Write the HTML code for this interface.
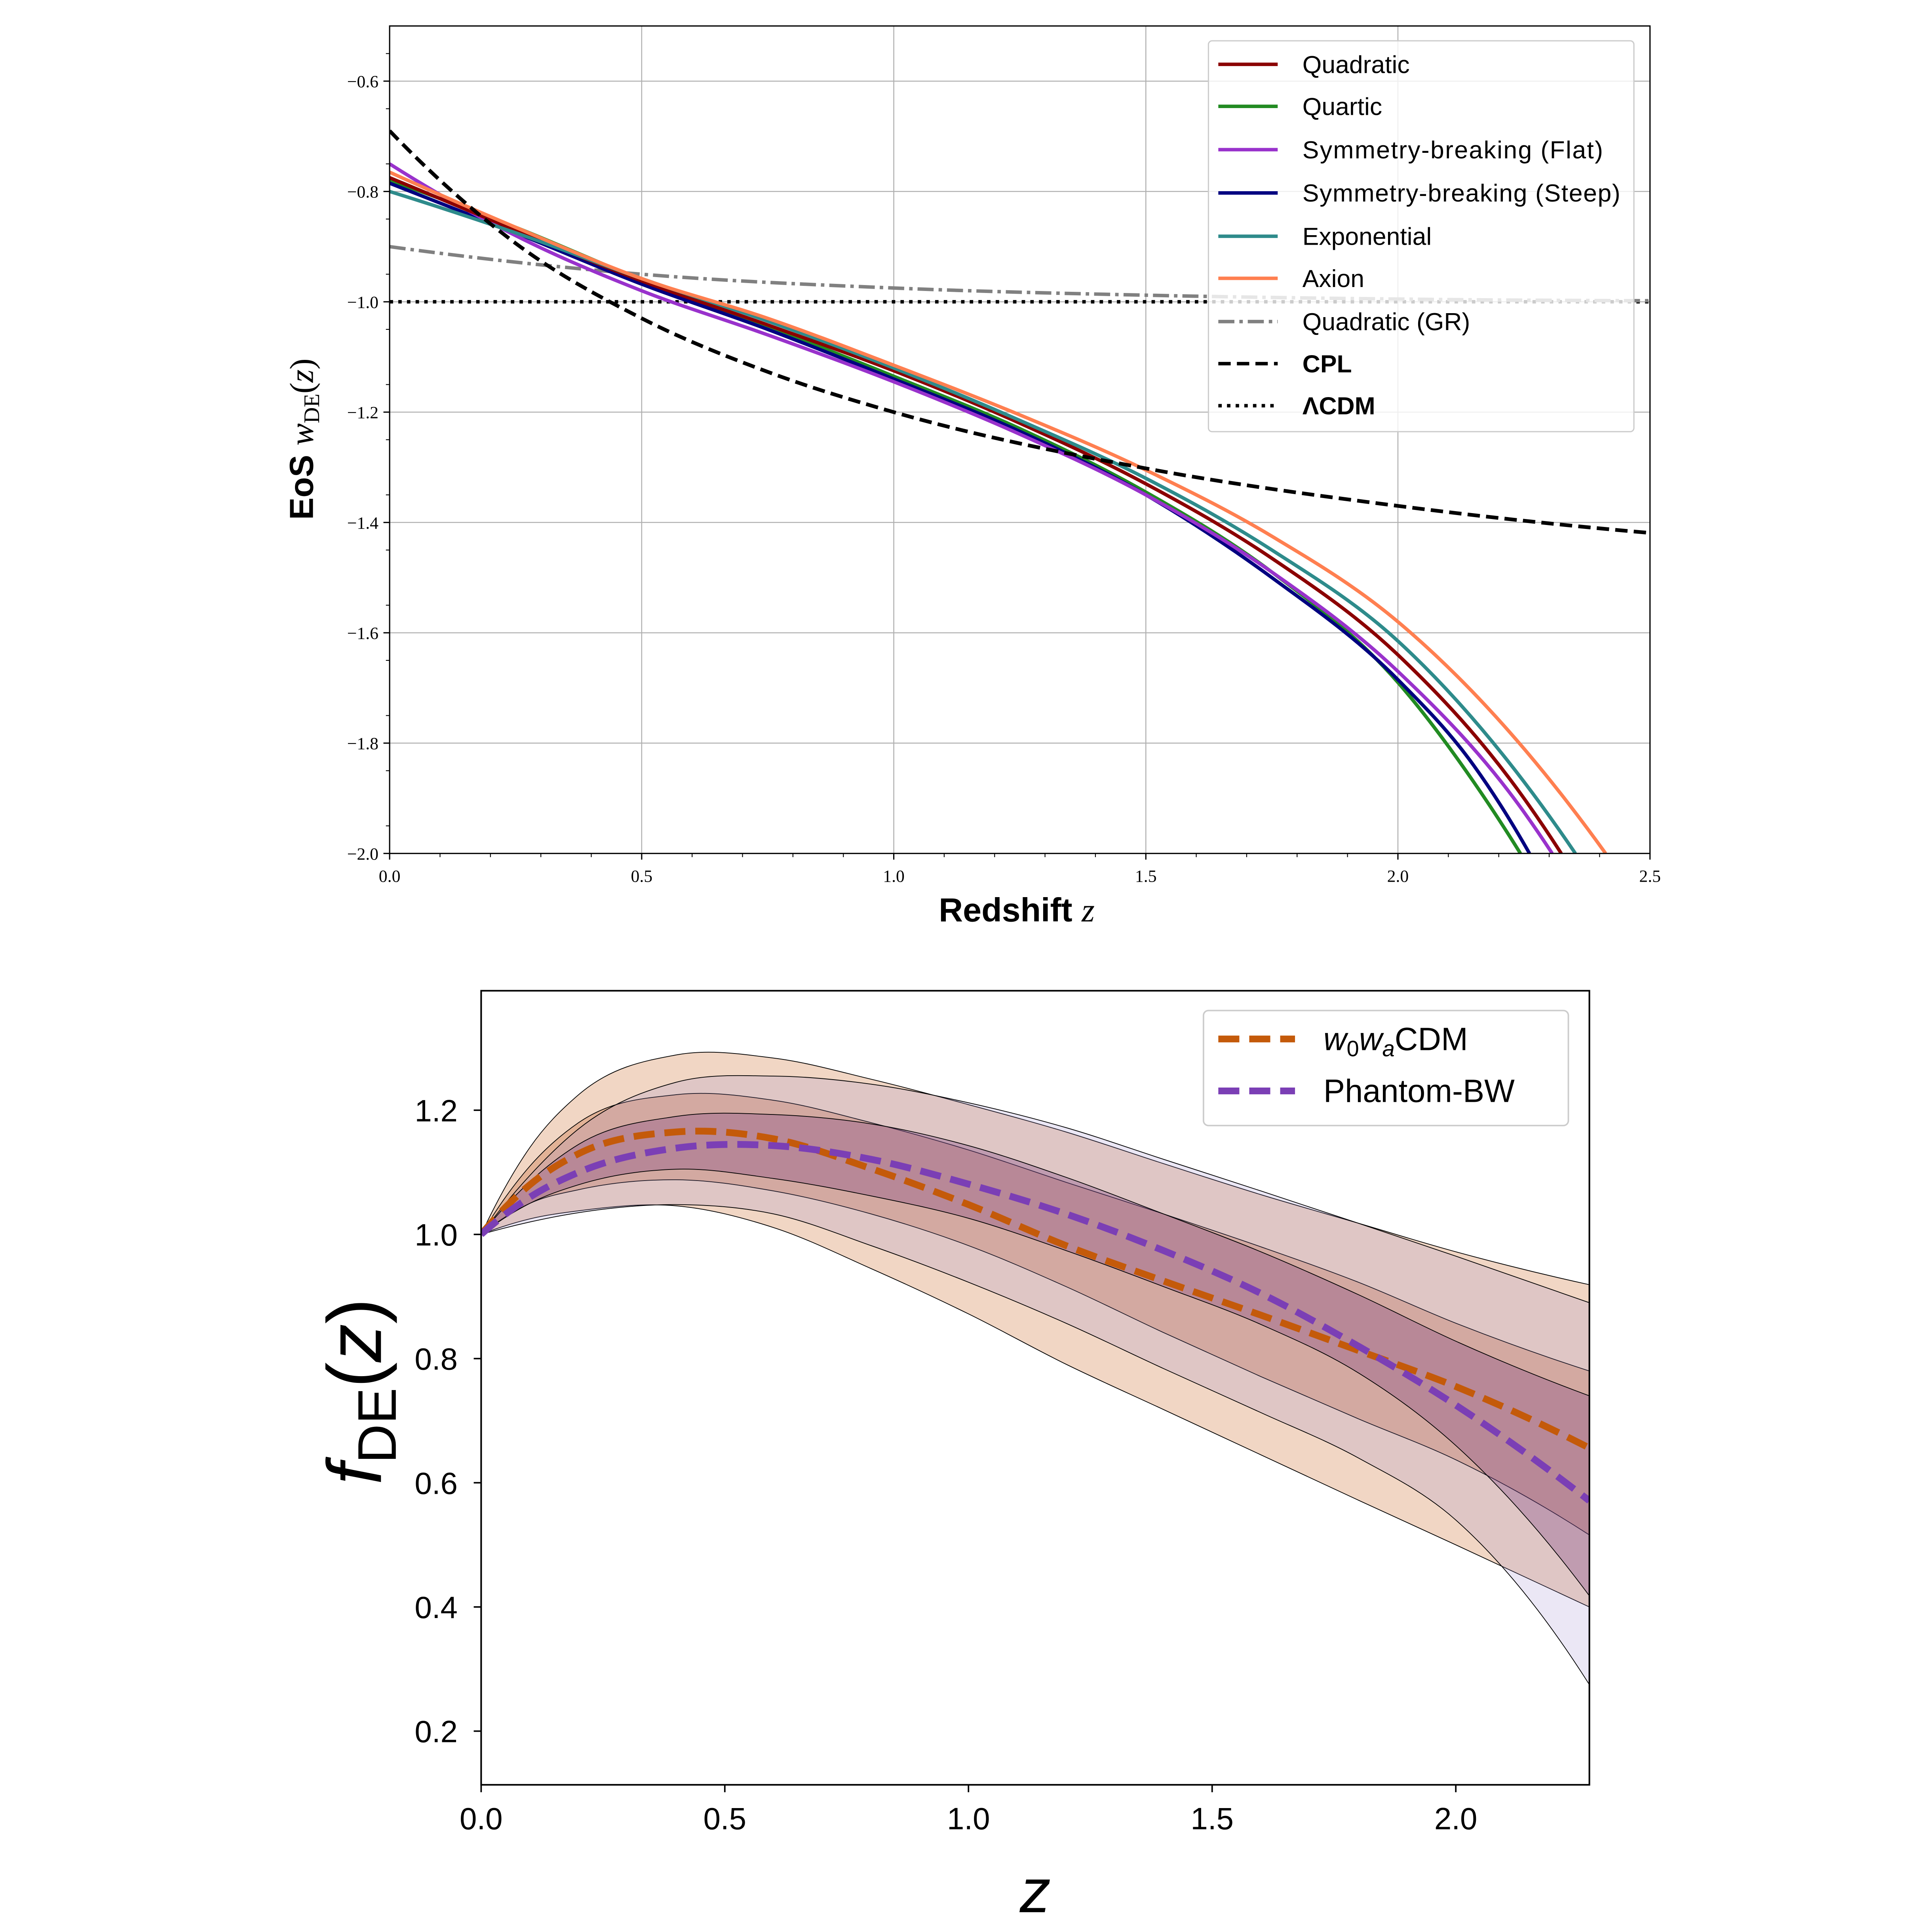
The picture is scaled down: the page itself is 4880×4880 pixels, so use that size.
<!DOCTYPE html>
<html><head><meta charset="utf-8"><style>html,body{margin:0;padding:0;background:#fff}svg{display:block}</style></head>
<body>
<svg id="fig" xmlns="http://www.w3.org/2000/svg" width="4880" height="4880" viewBox="0 0 1562 1562">
<rect width="1562" height="1562" fill="#fff"/>
<defs>
<clipPath id="clipTop"><rect x="315" y="21" width="1019" height="669"/></clipPath>
<clipPath id="clipBot"><rect x="389" y="801" width="896" height="642"/></clipPath>
</defs>
<g id="top"></g>
<g id="bot"></g>
</svg>
<script>
// ---------- TOP CHART DATA ----------
const topXTicks = [0.0, 0.5, 1.0, 1.5, 2.0, 2.5];
const topXTickLabels = ["0.0", "0.5", "1.0", "1.5", "2.0", "2.5"];
const topYTicks = [-0.6, -0.8, -1.0, -1.2, -1.4, -1.6, -1.8, -2.0];
const topYTickLabels = ["\u22120.6", "\u22120.8", "\u22121.0", "\u22121.2", "\u22121.4", "\u22121.6", "\u22121.8", "\u22122.0"];
const quadZ = [0, 0.25, 0.5, 0.75, 1.0, 1.25, 1.5, 1.75, 2.0, 2.25, 2.324];
const quadW = [-0.775, -0.87, -0.962, -1.042, -1.125, -1.22, -1.33, -1.465, -1.64, -1.90, -2.0];
const quartZ = [0, 0.25, 0.5, 0.75, 1.0, 1.25, 1.5, 1.75, 2.0, 2.15, 2.243];
const quartW = [-0.78, -0.865, -0.96, -1.045, -1.135, -1.23, -1.345, -1.49, -1.69, -1.87, -2.0];
const flatZ = [0, 0.25, 0.5, 0.75, 1.0, 1.25, 1.5, 1.75, 2.0, 2.25, 2.306];
const flatW = [-0.75, -0.88, -0.98, -1.06, -1.145, -1.24, -1.35, -1.49, -1.67, -1.925, -2.0];
const steepZ = [0, 0.25, 0.5, 0.75, 1.0, 1.25, 1.5, 1.75, 2.0, 2.15, 2.261];
const steepW = [-0.785, -0.875, -0.968, -1.05, -1.14, -1.235, -1.35, -1.50, -1.685, -1.84, -2.0];
const expZ = [0, 0.25, 0.5, 0.75, 1.0, 1.25, 1.5, 1.75, 2.0, 2.25, 2.352];
const expW = [-0.80, -0.875, -0.958, -1.035, -1.12, -1.215, -1.32, -1.45, -1.615, -1.87, -2.0];
const axZ = [0, 0.25, 0.5, 0.75, 1.0, 1.25, 1.5, 1.75, 2.0, 2.25, 2.412];
const axW = [-0.765, -0.865, -0.958, -1.03, -1.115, -1.205, -1.305, -1.425, -1.58, -1.81, -2.0];
const grZ = [0, 0.5, 1.0, 1.5, 2.0, 2.5];
const grW = [-0.9, -0.95, -0.975, -0.988, -0.995, -0.998];
const cplZ = [0, 0.25, 0.5, 0.75, 1.0, 1.5, 2.0, 2.5];
const cplW = [-0.69, -0.894, -1.03, -1.127, -1.20, -1.302, -1.37, -1.419];
const lcdmZ = [0, 2.5];
const lcdmW = [-1.0, -1.0];

// ---------- BOTTOM CHART DATA ----------
const botXTicks = [0.0, 0.5, 1.0, 1.5, 2.0];
const botXTickLabels = ["0.0", "0.5", "1.0", "1.5", "2.0"];
const botYTicks = [0.2, 0.4, 0.6, 0.8, 1.0, 1.2];
const botYTickLabels = ["0.2", "0.4", "0.6", "0.8", "1.0", "1.2"];
const bandZ = [0, 0.1, 0.2, 0.4, 0.6, 0.8, 1.0, 1.2, 1.4, 1.6, 1.8, 2.0, 2.274];
const orange2Up = [1.0, 1.14, 1.225, 1.289, 1.284, 1.25, 1.209, 1.165, 1.114, 1.064, 1.018, 0.972, 0.919];
const orange2Lo = [1.0, 1.025, 1.038, 1.046, 1.011, 0.945, 0.872, 0.791, 0.718, 0.645, 0.572, 0.50, 0.40];
const orange1Up = [1.0, 1.11, 1.18, 1.225, 1.216, 1.18, 1.136, 1.084, 1.033, 0.98, 0.923, 0.857, 0.78];
const orange1Lo = [1.0, 1.05, 1.072, 1.088, 1.07, 1.033, 0.982, 0.916, 0.842, 0.771, 0.703, 0.637, 0.516];
const purple2Up = [1.0, 1.095, 1.17, 1.245, 1.255, 1.242, 1.212, 1.172, 1.121, 1.070, 1.018, 0.965, 0.89];
const purple2Lo = [1.0, 1.02, 1.035, 1.048, 1.033, 0.982, 0.923, 0.857, 0.784, 0.713, 0.64, 0.54, 0.275];
const purple1Up = [1.0, 1.085, 1.145, 1.19, 1.193, 1.178, 1.143, 1.092, 1.033, 0.972, 0.903, 0.828, 0.74];
const purple1Lo = [1.0, 1.05, 1.08, 1.105, 1.09, 1.062, 1.026, 0.974, 0.916, 0.855, 0.777, 0.66, 0.418];
const meanOrange = [1.0, 1.08, 1.13, 1.165, 1.154, 1.106, 1.048, 0.982, 0.925, 0.87, 0.813, 0.755, 0.656];
const meanPurple = [1.0, 1.06, 1.10, 1.139, 1.143, 1.121, 1.081, 1.033, 0.974, 0.905, 0.82, 0.725, 0.571];

const NS = "http://www.w3.org/2000/svg";
function mk(parent, tag, attrs, text) {
  const e = document.createElementNS(NS, tag);
  for (const k in attrs) e.setAttribute(k, attrs[k]);
  if (text !== undefined) e.textContent = text;
  parent.appendChild(e);
  return e;
}
// Hermite spline with 3-point parabola derivatives (non-uniform spacing)
function smoothPath(pts) {
  const n = pts.length;
  if (n < 3) return "M" + pts[0][0] + "," + pts[0][1] + "L" + pts[n - 1][0] + "," + pts[n - 1][1];
  const h = [], dd = [];
  for (let i = 0; i < n - 1; i++) { h.push(pts[i + 1][0] - pts[i][0]); dd.push((pts[i + 1][1] - pts[i][1]) / h[i]); }
  const m = new Array(n);
  for (let i = 1; i < n - 1; i++) m[i] = (h[i] * dd[i - 1] + h[i - 1] * dd[i]) / (h[i - 1] + h[i]);
  m[0] = 2 * dd[0] - m[1];
  m[n - 1] = 2 * dd[n - 2] - m[n - 2];
  let d = "M" + pts[0][0].toFixed(2) + "," + pts[0][1].toFixed(2);
  for (let i = 0; i < n - 1; i++) {
    const p1 = pts[i], p2 = pts[i + 1], hh = h[i];
    const c1 = [p1[0] + hh / 3, p1[1] + m[i] * hh / 3];
    const c2 = [p2[0] - hh / 3, p2[1] - m[i + 1] * hh / 3];
    d += "C" + c1[0].toFixed(2) + "," + c1[1].toFixed(2) + " " + c2[0].toFixed(2) + "," + c2[1].toFixed(2) + " " + p2[0].toFixed(2) + "," + p2[1].toFixed(2);
  }
  return d;
}
const serif = '"Liberation Serif", "DejaVu Serif", serif';
const sans = '"Liberation Sans", "DejaVu Sans", sans-serif';

// ---------- TOP ----------
const T = document.getElementById("top");
const tx = z => 315 + z * (1019 / 2.5);
const ty = w => 21 + (-0.5 - w) * (669 / 1.5);
topXTicks.forEach(v => {
  const g = mk(T, "line", {x1: tx(v), x2: tx(v), y1: 21, y2: 690, stroke: "#b0b0b0", "stroke-width": 0.8});
  
  
});
topYTicks.forEach(v => {
  const g = mk(T, "line", {x1: 315, x2: 1334, y1: ty(v), y2: ty(v), stroke: "#b0b0b0", "stroke-width": 0.8});
  
  
});
const topSeries = [
  {z: lcdmZ, w: lcdmW, c: "#000", sw: 2.8, da: "2.8,4.2", n: "lcdm-line"},
  {z: grZ, w: grW, c: "#808080", sw: 2.8, da: "13,4,2.8,4", n: "quadratic-gr-line"},
  {z: quartZ, w: quartW, c: "#228b22", sw: 2.8, da: "", n: "quartic-line"},
  {z: steepZ, w: steepW, c: "#000080", sw: 2.8, da: "", n: "symmetry-steep-line"},
  {z: flatZ, w: flatW, c: "#9932cc", sw: 2.8, da: "", n: "symmetry-flat-line"},
  {z: quadZ, w: quadW, c: "#8b0000", sw: 2.8, da: "", n: "quadratic-line"},
  {z: expZ, w: expW, c: "#2e8b8b", sw: 2.8, da: "", n: "exponential-line"},
  {z: axZ, w: axW, c: "#ff7f50", sw: 2.8, da: "", n: "axion-line"},
  {z: cplZ, w: cplW, c: "#000", sw: 3, da: "10,5", n: "cpl-line"}
];
const tg = mk(T, "g", {"clip-path": "url(#clipTop)"});
topSeries.forEach(s => {
  const pts = s.z.map((z, i) => [tx(z), ty(s.w[i])]);
  const p = mk(tg, "path", {d: smoothPath(pts), fill: "none", stroke: s.c, "stroke-width": s.sw, "stroke-dasharray": s.da});
  
  
});
mk(T, "rect", {x: 315, y: 21, width: 1019, height: 669, fill: "none", stroke: "#000", "stroke-width": 1});
topXTicks.forEach((v, i) => {
  mk(T, "line", {x1: tx(v), x2: tx(v), y1: 690, y2: 695, stroke: "#000", "stroke-width": 1});
  const t = mk(T, "text", {x: tx(v), y: 713, "font-family": serif, "font-size": 14, "text-anchor": "middle"}, topXTickLabels[i]);
  
  
});
for (let k = 1; k < 25; k++) { if (k % 5) mk(T, "line", {x1: tx(k * 0.1), x2: tx(k * 0.1), y1: 690, y2: 693, stroke: "#000", "stroke-width": 0.7}); }
topYTicks.forEach((v, i) => {
  mk(T, "line", {x1: 310, x2: 315, y1: ty(v), y2: ty(v), stroke: "#000", "stroke-width": 1});
  const t = mk(T, "text", {x: 306, y: ty(v) + 5, "font-family": serif, "font-size": 14, "text-anchor": "end"}, topYTickLabels[i]);
  
  
});
for (let k = 1; k < 30; k++) { if (k % 4) { const v = -0.5 - k * 0.05; mk(T, "line", {x1: 312, x2: 315, y1: ty(v), y2: ty(v), stroke: "#000", "stroke-width": 0.7}); } }
const xl = mk(T, "text", {x: 822, y: 745, "font-family": sans, "font-size": 27, "font-weight": "bold", "text-anchor": "middle"});


mk(xl, "tspan", {}, "Redshift ");
mk(xl, "tspan", {"font-family": serif, "font-style": "italic", "font-weight": "normal"}, "z");
const yl = mk(T, "text", {x: 0, y: 0, transform: "translate(253,355) rotate(-90)", "font-family": sans, "font-size": 27, "font-weight": "bold", "text-anchor": "middle"});


mk(yl, "tspan", {}, "EoS ");
mk(yl, "tspan", {"font-family": serif, "font-style": "italic", "font-weight": "normal"}, "w");
mk(yl, "tspan", {"font-family": serif, "font-weight": "normal", "font-size": 18, dy: 5}, "DE");
mk(yl, "tspan", {"font-family": serif, "font-weight": "normal", dy: -5}, "(");
mk(yl, "tspan", {"font-family": serif, "font-style": "italic", "font-weight": "normal"}, "z");
mk(yl, "tspan", {"font-family": serif, "font-weight": "normal"}, ")");
const lg = mk(T, "g", {});


mk(lg, "rect", {x: 977, y: 33, width: 344, height: 316, rx: 3, fill: "#fff", "fill-opacity": 0.8, stroke: "#ccc", "stroke-width": 1});
const legItems = [
  ["Quadratic", "#8b0000", "", false], ["Quartic", "#228b22", "", false], ["Symmetry-breaking (Flat)", "#9932cc", "", false],
  ["Symmetry-breaking (Steep)", "#000080", "", false], ["Exponential", "#2e8b8b", "", false], ["Axion", "#ff7f50", "", false],
  ["Quadratic (GR)", "#808080", "13,4,2.8,4", false], ["CPL", "#000", "10,5", true], ["\u039BCDM", "#000", "2.8,4.2", true]
];
const legY = [52, 86, 121, 156, 191, 225, 260, 294, 328];
legItems.forEach((it, i) => {
  const e = mk(lg, "g", {});
  
  
  mk(e, "line", {x1: 985, x2: 1033, y1: legY[i], y2: legY[i], stroke: it[1], "stroke-width": 2.8, "stroke-dasharray": it[2]});
  const attrs = {x: 1053, y: legY[i] + 7, "font-family": sans, "font-size": 20, "font-weight": it[3] ? "bold" : "normal"};
  if (it[0].length > 20) attrs.textLength = it[0].length > 24 ? 257 : 243;
  mk(e, "text", attrs, it[0]);
});

// ---------- BOTTOM ----------
const B = document.getElementById("bot");
const bx = z => 389 + z * 394;
const by = v => 998 - (v - 1) * 502;
const bg = mk(B, "g", {"clip-path": "url(#clipBot)"});
function band(up, lo, fill, op, name) {
  const up_pts = bandZ.map((z, i) => [bx(z), by(up[i])]);
  const lo_pts = bandZ.map((z, i) => [bx(z), by(lo[i])]).reverse();
  const d = smoothPath(up_pts) + smoothPath(lo_pts).replace(/^M/, "L") + "Z";
  const p = mk(bg, "path", {d: d, fill: fill, "fill-opacity": op, stroke: "#000", "stroke-width": 0.6});
  
  
}
band(orange2Up, orange2Lo, "#d2783c", 0.3, "w0wa-2sigma-band");
band(orange1Up, orange1Lo, "#c0602a", 0.3, "w0wa-1sigma-band");
band(purple2Up, purple2Lo, "#9a86cf", 0.2, "phantom-2sigma-band");
band(purple1Up, purple1Lo, "#7a3a80", 0.3, "phantom-1sigma-band");
[[meanOrange, "#c45a0a", "w0wa-mean-line"], [meanPurple, "#7b3fb5", "phantom-mean-line"]].forEach(m => {
  const pts = bandZ.map((z, i) => [bx(z), by(m[0][i])]);
  const p = mk(bg, "path", {d: smoothPath(pts), fill: "none", stroke: m[1], "stroke-width": 5.5, "stroke-dasharray": "17,8"});
  
  
});
mk(B, "rect", {x: 389, y: 801, width: 896, height: 642, fill: "none", stroke: "#000", "stroke-width": 1.3});
botXTicks.forEach((v, i) => {
  mk(B, "line", {x1: bx(v), x2: bx(v), y1: 1443, y2: 1449, stroke: "#000", "stroke-width": 1.2});
  const t = mk(B, "text", {x: bx(v), y: 1479, "font-family": sans, "font-size": 25, "text-anchor": "middle"}, botXTickLabels[i]);
  
  
});
botYTicks.forEach((v, i) => {
  mk(B, "line", {x1: 383, x2: 389, y1: by(v), y2: by(v), stroke: "#000", "stroke-width": 1.2});
  const t = mk(B, "text", {x: 370, y: by(v) + 9, "font-family": sans, "font-size": 25, "text-anchor": "end"}, botYTickLabels[i]);
  
  
});
const bxl = mk(B, "text", {x: 837, y: 1546, "font-family": sans, "font-size": 50, "font-style": "italic", "text-anchor": "middle"}, "z");


const byl = mk(B, "text", {x: 0, y: 0, transform: "translate(308,1125) rotate(-90)", "font-family": sans, "font-size": 62, "text-anchor": "middle"});


mk(byl, "tspan", {"font-style": "italic"}, "f");
mk(byl, "tspan", {"font-size": 44, dy: 12}, "DE");
mk(byl, "tspan", {dy: -12}, "(");
mk(byl, "tspan", {"font-style": "italic"}, "z");
mk(byl, "tspan", {}, ")");
const blg = mk(B, "g", {});


mk(blg, "rect", {x: 973, y: 817, width: 295, height: 93, rx: 4, fill: "#fff", "fill-opacity": 0.85, stroke: "#ccc", "stroke-width": 1.2});
const e1 = mk(blg, "g", {});


mk(e1, "line", {x1: 985, x2: 1047, y1: 840, y2: 840, stroke: "#c45a0a", "stroke-width": 5.5, "stroke-dasharray": "17,8"});
const t1 = mk(e1, "text", {x: 1070, y: 849, "font-family": sans, "font-size": 26});
mk(t1, "tspan", {"font-style": "italic"}, "w");
mk(t1, "tspan", {"font-size": 18, dy: 5}, "0");
mk(t1, "tspan", {"font-style": "italic", dy: -5}, "w");
mk(t1, "tspan", {"font-size": 18, "font-style": "italic", dy: 5}, "a");
mk(t1, "tspan", {dy: -5}, "CDM");
const e2 = mk(blg, "g", {});


mk(e2, "line", {x1: 985, x2: 1047, y1: 882, y2: 882, stroke: "#7b3fb5", "stroke-width": 5.5, "stroke-dasharray": "17,8"});
mk(e2, "text", {x: 1070, y: 891, "font-family": sans, "font-size": 26}, "Phantom-BW");
</script>
</body></html>
